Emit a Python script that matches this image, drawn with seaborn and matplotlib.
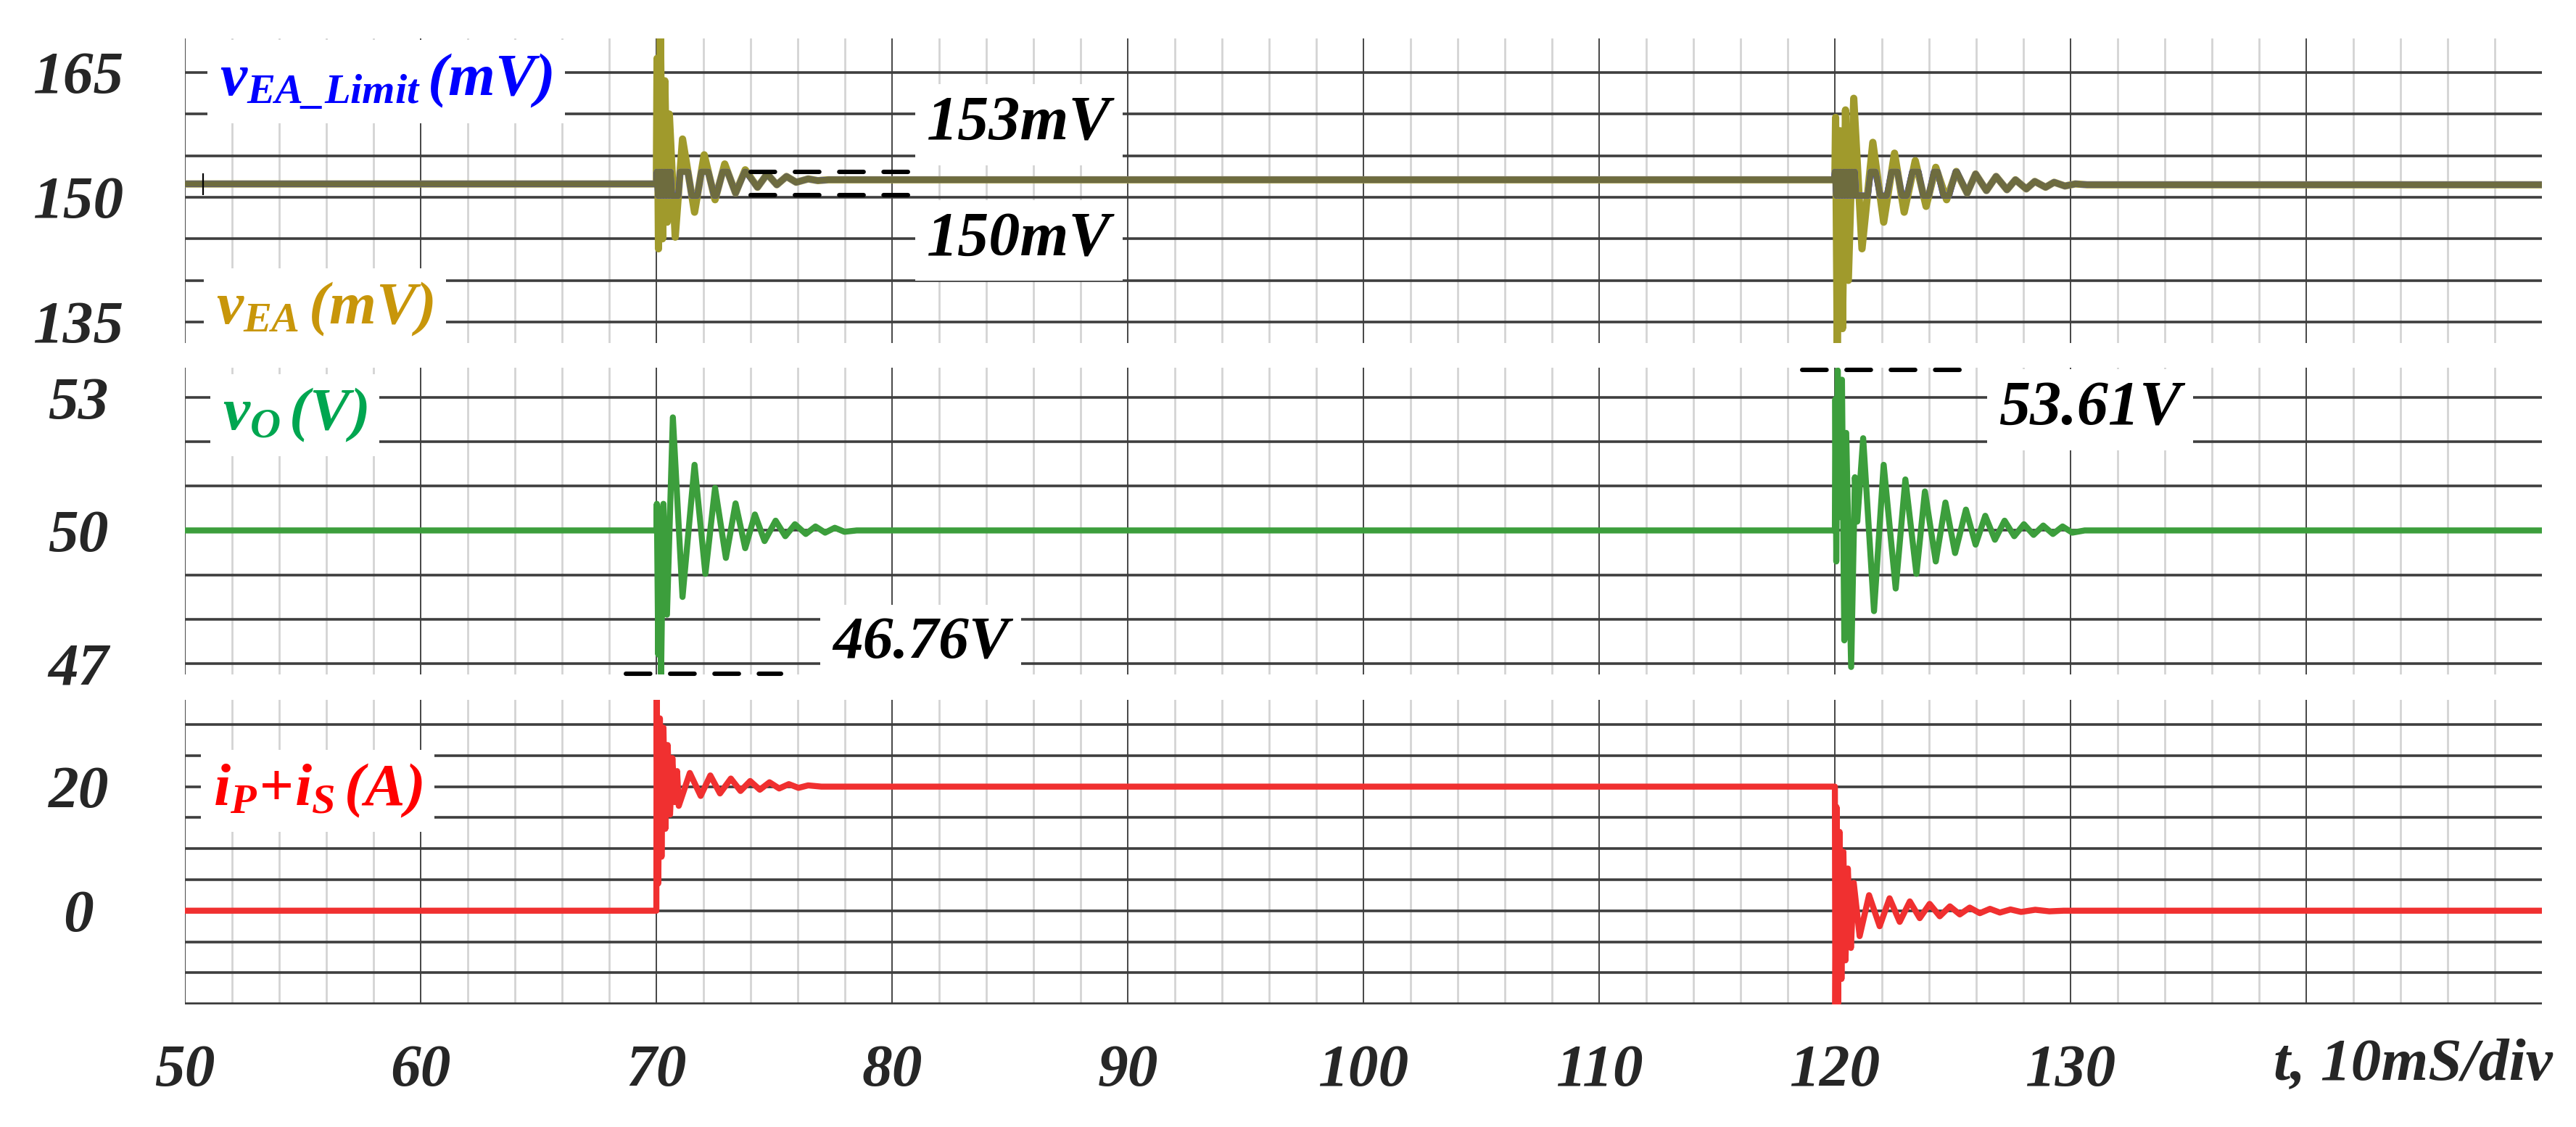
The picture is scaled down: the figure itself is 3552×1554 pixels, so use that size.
import matplotlib
matplotlib.use('Agg')
import matplotlib.pyplot as plt
import seaborn as sns

# time axis, 10 mS/div
x_major = [50, 60, 70, 80, 90, 100, 110, 120, 130, 140]
x_labels = ['50', '60', '70', '80', '90', '100', '110', '120', '130', '']
x_minor = [v for v in range(52, 150, 2) if v % 10]

# top panel: v_EA (mV)
vea_t = [50.00, 70.00, 70.03, 70.09, 70.17, 70.26, 70.36, 70.46, 70.55, 70.80,
         71.11, 71.62, 72.03, 72.49, 72.90, 73.36, 73.77, 74.29, 74.70, 75.11,
         75.52, 75.93, 76.44, 76.85, 77.30,
         120.00, 120.03, 120.10, 120.22, 120.32, 120.45, 120.57, 120.80, 121.15,
         121.61, 122.07, 122.53, 122.94, 123.41, 123.87, 124.28, 124.74, 125.15,
         125.61, 125.97, 126.43, 126.84, 127.30, 127.66, 128.12, 128.48, 128.94,
         129.30, 129.76, 130.20, 130.70, 150.00]
vea_v = [151.6, 151.6, 166.7, 143.8, 170.5, 145.0, 164.0, 147.0, 160.0, 145.2,
         157.0, 148.2, 155.1, 149.7, 154.0, 150.5, 153.3, 151.2, 152.8, 151.5,
         152.5, 151.8, 152.2, 152.0, 152.1,
         152.1, 159.6, 132.0, 158.0, 134.2, 160.5, 140.0, 161.9, 143.8,
         156.6, 147.0, 155.3, 148.2, 154.4, 148.9, 153.6, 149.7, 153.1,
         150.5, 152.8, 150.8, 152.5, 150.9, 152.1, 151.0, 151.9, 151.2,
         151.8, 151.35, 151.6, 151.5, 151.5]

# top panel: v_EA_Limit (mV), held between 150 and 153 mV
lim_t = [50.00, 70.00, 70.02, 70.07, 70.12, 70.18, 70.24, 70.30, 70.36, 70.42,
         70.48, 70.54, 70.60, 70.66, 70.93, 71.01, 71.34, 71.50, 71.74, 71.91,
         72.20, 72.45, 72.54, 72.81, 73.02, 73.36, 73.75, 73.80, 74.29, 74.70,
         75.11, 75.52, 75.93, 76.44, 76.85, 77.30,
         119.95, 120.00, 120.06, 120.12, 120.18, 120.24, 120.30, 120.36, 120.42,
         120.48, 120.54, 120.60, 120.66, 120.72, 120.78, 120.84, 120.90, 121.40,
         121.52, 121.72, 121.92, 122.20, 122.40, 122.65, 122.85, 123.05, 123.28,
         123.55, 123.75, 123.98, 124.20, 124.36, 124.60, 124.85, 125.12, 125.18,
         125.61, 125.97, 126.43, 126.84, 127.30, 127.66, 128.12, 128.48, 128.94,
         129.30, 129.76, 130.20, 130.70, 150.00]
lim_v = [151.6, 151.6, 153.05, 150.2, 153.05, 150.2, 153.05, 150.2, 153.05, 150.2,
         153.05, 150.2, 153.05, 150.2, 150.2, 153.05, 153.05, 150.2, 150.2, 153.05,
         153.05, 150.2, 150.2, 153.05, 153.05, 150.5, 153.05, 153.05, 151.2, 152.8,
         151.5, 152.5, 151.8, 152.2, 152.0, 152.1,
         152.1, 153.05, 150.2, 153.05, 150.2, 153.05, 150.2, 153.05, 150.2,
         153.05, 150.2, 153.05, 150.2, 153.05, 150.2, 153.05, 150.2, 150.2,
         153.05, 153.05, 150.2, 150.2, 153.05, 153.05, 150.2, 150.2, 153.05,
         153.05, 150.2, 150.2, 153.05, 153.05, 150.2, 150.2, 153.05, 153.05,
         150.5, 152.8, 150.8, 152.5, 150.9, 152.1, 151.0, 151.9, 151.2,
         151.8, 151.35, 151.6, 151.5, 151.5]
vea_grid = [135, 140, 145, 150, 155, 160, 165]
vea_labels = ['135', '', '', '150', '', '', '165']

# middle panel: v_O (V)
vo_t = [50.00, 70.00, 70.02, 70.08, 70.12, 70.20, 70.30, 70.45, 70.70, 71.11,
        71.62, 72.08, 72.49, 72.95, 73.36, 73.77, 74.18, 74.59, 75.06, 75.47,
        75.88, 76.34, 76.75, 77.16, 77.57, 77.98, 78.50,
        120.00, 120.02, 120.06, 120.12, 120.22, 120.30, 120.40, 120.48, 120.69,
        120.85, 120.95, 121.20, 121.66, 122.07, 122.58, 122.99, 123.46, 123.82,
        124.28, 124.69, 125.10, 125.56, 125.97, 126.38, 126.79, 127.20, 127.61,
        128.02, 128.43, 128.84, 129.25, 129.66, 130.07, 130.60, 150.00]
vo_v = [50.0, 50.0, 50.6, 47.2, 50.5, 46.76, 50.6, 48.1, 52.55, 48.5,
        51.48, 49.02, 50.96, 49.38, 50.61, 49.6, 50.36, 49.76, 50.22, 49.87,
        50.14, 49.92, 50.09, 49.95, 50.06, 49.97, 50.0,
        50.0, 52.96, 49.3, 53.61, 50.3, 53.4, 47.52, 52.2, 46.92,
        51.2, 50.2, 52.08, 48.18, 51.48, 48.69, 51.15, 49.02, 50.88,
        49.3, 50.63, 49.49, 50.47, 49.68, 50.33, 49.79, 50.22, 49.87,
        50.14, 49.9, 50.11, 49.92, 50.09, 49.95, 50.0, 50.0]
vo_grid = [47, 48, 49, 50, 51, 52, 53]
vo_labels = ['47', '', '', '50', '', '', '53']

# bottom panel: i_P + i_S (A)
i_t = [50.00, 70.00, 70.01, 70.08, 70.15, 70.22, 70.30, 70.38, 70.48, 70.58,
       70.68, 70.78, 70.88, 70.95, 71.42, 71.88, 72.29, 72.70, 73.16, 73.57,
       73.98, 74.39, 74.80, 75.21, 75.62, 76.03, 76.44, 77.00,
       120.00, 120.02, 120.07, 120.13, 120.20, 120.28, 120.36, 120.45, 120.55,
       120.68, 120.80, 121.05, 121.45, 121.90, 122.32, 122.75, 123.18, 123.60,
       124.02, 124.45, 124.88, 125.30, 125.72, 126.15, 126.58, 127.00, 127.45,
       127.90, 128.50, 129.10, 129.70, 150.00]
i_v = [0.0, 0.0, 34.5, 4.4, 31.0, 8.7, 29.5, 13.2, 26.7, 15.5,
       24.6, 17.5, 22.5, 16.9, 22.2, 18.5, 21.8, 18.9, 21.3, 19.3,
       20.9, 19.5, 20.7, 19.7, 20.4, 19.8, 20.2, 20.0,
       20.0, -15.8, 16.7, -15.0, 12.7, -11.0, 9.5, -8.0, 6.8,
       -6.0, 4.5, -4.1, 2.5, -2.5, 2.0, -1.8, 1.5, -1.2,
       1.1, -0.9, 0.7, -0.6, 0.5, -0.4, 0.3, -0.3, 0.2,
       -0.2, 0.15, -0.1, 0.0, 0.0]
i_grid = [-15, -10, -5, 0, 5, 10, 15, 20, 25, 30]
i_labels = ['', '', '', '0', '', '', '', '20', '', '']


def setup_style():
    sns.set_theme(style='white')
    plt.rcParams['font.family'] = ['Liberation Serif', 'DejaVu Serif']
    plt.rcParams['font.style'] = 'italic'
    plt.rcParams['font.weight'] = 'bold'
    plt.rcParams['mathtext.fontset'] = 'custom'
    plt.rcParams['mathtext.it'] = 'Liberation Serif:italic:bold'
    plt.rcParams['mathtext.rm'] = 'Liberation Serif:italic:bold'
    plt.rcParams['mathtext.bf'] = 'Liberation Serif:italic:bold'


def style_panel(ax, ylim, grid, labels, show_x):
    ax.set_xlim(50, 150)
    ax.set_ylim(*ylim)
    ax.set_xticks(x_major)
    ax.set_xticks(x_minor, minor=True)
    ax.set_xticklabels(x_labels if show_x else [''] * len(x_major))
    ax.set_yticks(grid)
    ax.set_yticklabels(labels)
    for s in ax.spines.values():
        s.set_visible(False)
    ax.set_axisbelow(True)
    ax.grid(which='major', axis='x', color='#262626', lw=0.6)
    ax.grid(which='minor', axis='x', color='#d4d4d4', lw=1.0)
    ax.grid(which='major', axis='y', color='#3e3e3e', lw=1.3)
    ax.tick_params(which='both', length=0)
    ax.tick_params(axis='y', pad=53, labelsize=30)
    ax.tick_params(axis='x', pad=20, labelsize=30)
    for lab in ax.get_yticklabels():
        lab.set_horizontalalignment('center')
    ax.set_xlabel('')
    ax.set_ylabel('')


def label(ax, x, y, s, color, size=30):
    ax.text(x, y, s, color=color, fontsize=size, ha='left', va='center', zorder=5,
            bbox=dict(facecolor='white', edgecolor='none', pad=6))


def dashed(ax, x0, x1, y):
    ax.plot([x0, x1], [y, y], color='black', lw=2.2, linestyle=(0, (5.5, 4.5)),
            dash_capstyle='round', clip_on=False, zorder=4)


def main():
    setup_style()
    fig = plt.figure(figsize=(17.76, 7.77), dpi=200)
    ax1 = fig.add_axes([0.0718, 0.6956, 0.915, 0.2703])
    ax2 = fig.add_axes([0.0718, 0.4015, 0.915, 0.2722])
    ax3 = fig.add_axes([0.0718, 0.1088, 0.915, 0.2703])

    # top panel
    sns.lineplot(x=vea_t, y=vea_v, ax=ax1, color='#A09A2C', lw=3.6,
                 estimator=None, sort=False, zorder=2)
    sns.lineplot(x=lim_t, y=lim_v, ax=ax1, color='#3030ff', lw=3.0,
                 estimator=None, sort=False, zorder=3)
    sns.lineplot(x=lim_t, y=lim_v, ax=ax1, color='#6E6C3E', lw=2.9,
                 estimator=None, sort=False, zorder=3)
    ax1.plot([50.77], [151.6], marker='|', ms=11, mew=0.8, color='black', zorder=4)
    style_panel(ax1, (132.46, 169.1), vea_grid, vea_labels, False)
    dashed(ax1, 74.0, 80.7, 153.05)
    dashed(ax1, 74.0, 80.7, 150.26)
    label(ax1, 51.48, 163.9, r'$v_{EA\_Limit}\,(mV)$', '#0000ff')
    label(ax1, 51.32, 136.5, r'$v_{EA}\,(mV)$', '#C8960A')
    label(ax1, 81.48, 158.7, '153mV', 'black', 31)
    label(ax1, 81.48, 144.8, '150mV', 'black', 31)

    # middle panel
    sns.lineplot(x=vo_t, y=vo_v, ax=ax2, color='#3C9E3C', lw=3.0,
                 estimator=None, sort=False, zorder=3)
    style_panel(ax2, (46.75, 53.67), vo_grid, vo_labels, False)
    dashed(ax2, 118.6, 125.3, 53.62)
    dashed(ax2, 68.7, 75.3, 46.76)
    label(ax2, 51.6, 52.6, r'$v_O\,(V)$', '#00A650')
    label(ax2, 126.95, 52.72, '53.61V', 'black', 31)
    label(ax2, 77.48, 47.44, '46.76V', 'black', 30)

    # bottom panel
    sns.lineplot(x=i_t, y=i_v, ax=ax3, color='#F03030', lw=3.0,
                 estimator=None, sort=False, zorder=3)
    style_panel(ax3, (-15.1, 34.0), i_grid, i_labels, True)
    label(ax3, 51.2, 19.3, r'$i_P\!+\!i_S\,(A)$', '#ff0000')
    ax3.text(138.6, -0.198, 't, 10mS/div', transform=ax3.get_xaxis_transform(),
             fontsize=30, ha='left', va='center')

    fig.savefig('out.png', dpi=200)
    plt.close(fig)


if __name__ == '__main__':
    main()
